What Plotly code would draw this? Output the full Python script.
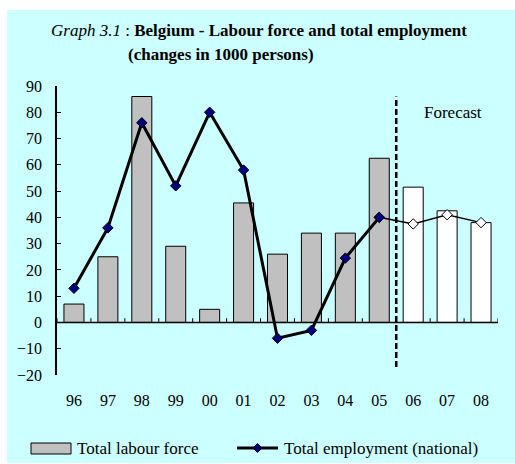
import plotly.graph_objects as go

# data (changes in 1000 persons)
years = ['96', '97', '98', '99', '00', '01', '02', '03', '04', '05', '06', '07', '08']
labour_force = [7, 25, 86, 29, 5, 45.5, 26, 34, 34, 62.5, 51.5, 42.5, 38]
employment = [13, 36, 76, 52, 80, 58, -6, -3, 24.5, 40, 37.5, 41, 38]
n_actual = 10  # '06' onwards is forecast

FONT = 'Liberation Serif'
BG = '#CCFFFF'

# plot area in pixels (used to place the decorations in paper coords)
W, H = 515, 464
L, R, T, B = 57, 17, 86, 89
pw, ph = W - L - R, H - T - B


def px(x):
    return (x - L) / pw


def py(y):
    return (H - B - y) / ph


bar_colors = ['#C0C0C0' if i < n_actual else 'white' for i in range(len(years))]

fig = go.Figure()
fig.add_trace(go.Bar(
    x=years, y=labour_force, name='Total labour force',
    marker=dict(color=bar_colors, line=dict(color='black', width=1)),
    showlegend=False))
# forecast part of employment: thin line, white diamonds
fig.add_trace(go.Scatter(
    x=years[n_actual - 1:], y=employment[n_actual - 1:], mode='lines+markers',
    line=dict(color='black', width=1.5),
    marker=dict(symbol='diamond', size=8, color='white', line=dict(color='black', width=1)),
    showlegend=False))
# actual employment
fig.add_trace(go.Scatter(
    x=years[:n_actual], y=employment[:n_actual], mode='lines+markers',
    name='Total employment (national)',
    line=dict(color='black', width=3),
    marker=dict(symbol='diamond', size=8, color='#000080', line=dict(color='black', width=1)),
    showlegend=False))

shapes = [
    # cyan chart background
    dict(type='rect', xref='paper', yref='paper', x0=px(7), x1=px(515), y0=py(463), y1=py(10),
         fillcolor=BG, line=dict(width=0), layer='below'),
    # horizontal axis sits on zero
    dict(type='line', xref='x', yref='y', x0=-0.5, x1=len(years) - 0.5, y0=0, y1=0,
         line=dict(color='black', width=1.5)),
    # forecast divider
    dict(type='line', xref='x', yref='y', x0=n_actual - 0.5, x1=n_actual - 0.5, y0=-17, y1=86,
         line=dict(color='black', width=2.5, dash='6px,3px')),
    # legend swatch for bars
    dict(type='rect', xref='paper', yref='paper', x0=px(31), x1=px(71), y0=py(454), y1=py(443),
         fillcolor='#C0C0C0', line=dict(color='black', width=1)),
    # legend line for employment
    dict(type='line', xref='paper', yref='paper', x0=px(237), x1=px(278), y0=py(448), y1=py(448),
         line=dict(color='black', width=3)),
    dict(type='path', xref='paper', yref='paper',
         path='M %f,%f L %f,%f L %f,%f L %f,%f Z' % (
             px(257.5), py(443.5), px(262), py(448), px(257.5), py(452.5), px(253), py(448)),
         fillcolor='#000080', line=dict(color='black', width=1)),
]
# tick marks on the zero axis, between categories
for i in range(len(years) + 1):
    shapes.append(dict(type='line', xref='x', yref='y', x0=i - 0.5, x1=i - 0.5, y0=0, y1=1.6,
                       line=dict(color='black', width=1)))

annotations = [
    dict(xref='paper', yref='paper', x=px(259), y=py(31), xanchor='center', yanchor='middle',
         showarrow=False, font=dict(family=FONT, size=17, color='black'),
         text='<i>Graph 3.1</i> : <b>Belgium - Labour force and total employment</b>'),
    dict(xref='paper', yref='paper', x=px(221), y=py(55), xanchor='center', yanchor='middle',
         showarrow=False, font=dict(family=FONT, size=17, color='black'),
         text='<b>(changes in 1000 persons)</b>'),
    dict(xref='x', yref='y', x=11.17, y=80, xanchor='center', yanchor='middle', showarrow=False,
         font=dict(family=FONT, size=17, color='black'), text='Forecast'),
    dict(xref='paper', yref='paper', x=px(75), y=py(448), xanchor='left', yanchor='middle',
         showarrow=False, font=dict(family=FONT, size=17, color='black'), text='Total labour force'),
    dict(xref='paper', yref='paper', x=px(282), y=py(448), xanchor='left', yanchor='middle',
         showarrow=False, font=dict(family=FONT, size=17, color='black'),
         text='Total employment (national)'),
]

fig.update_layout(
    width=W, height=H,
    margin=dict(l=L, r=R, t=T, b=B),
    paper_bgcolor='white', plot_bgcolor='rgba(0,0,0,0)',
    bargap=0.41,
    font=dict(family=FONT, size=15, color='black'),
    shapes=shapes, annotations=annotations,
    xaxis=dict(type='category', range=[-0.5, len(years) - 0.5], showline=False, showgrid=False,
               zeroline=False, ticks='', ticklabelstandoff=14, tickfont=dict(family=FONT, size=16)),
    yaxis=dict(range=[-20, 90], dtick=10, showline=True, linecolor='black', linewidth=1.5,
               showgrid=False, zeroline=False, ticks='inside', ticklen=4, tickcolor='black',
               tickwidth=1, ticklabelstandoff=10, tickfont=dict(family=FONT, size=16)),
)

# page body has a default 8px margin; drop it so the chart sits at the window origin
fig.write_html('out.html', config={'displayModeBar': False},
               post_script="document.body.style.margin='0';")
